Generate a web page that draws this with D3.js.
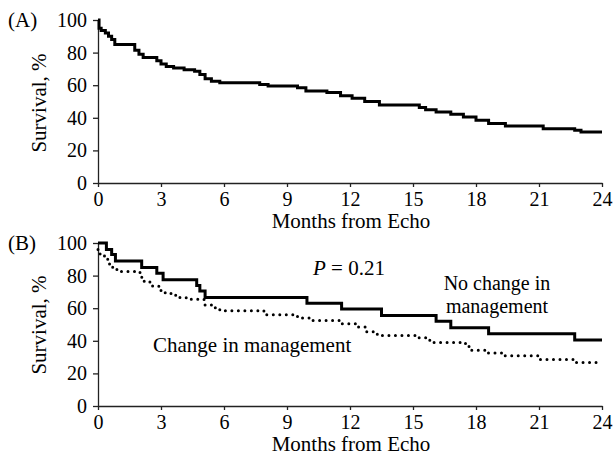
<!DOCTYPE html>
<html>
<head>
<meta charset="utf-8">
<script src="https://cdn.jsdelivr.net/npm/d3@7"></script>
<style>
  body { margin: 0; background: #fff; }
  svg text { font-family: "Liberation Serif", "Times New Roman", serif; fill: #000; }
</style>
</head>
<body>
<svg id="chart" width="614" height="455"></svg>
<script>
// x ticks (months) and y ticks (survival %)
let monthTicks = [0, 3, 6, 9, 12, 15, 18, 21, 24];
let survTicks = [0, 20, 40, 60, 80, 100];

// Panel A: all patients, [month, survival %] at each step
let allPatients = [
    [0, 100], [0.05, 95], [0.15, 93.5], [0.35, 92], [0.5, 90], [0.65, 88],
    [0.8, 85], [1.75, 81.5], [1.95, 79], [2.15, 77], [2.8, 75], [3.0, 73],
    [3.25, 71.5], [3.6, 70.5], [4.1, 69.5], [4.6, 68.5], [4.85, 66.5],
    [5.1, 64], [5.4, 62.5], [5.8, 61.5], [7.7, 60.5], [8.1, 59.5],
    [9.5, 58.5], [9.9, 56.5], [10.9, 55.5], [11.55, 53.5], [12.1, 52],
    [12.7, 50], [13.4, 47.8], [15.3, 46.3], [15.6, 45], [16.1, 43.6],
    [16.8, 42.2], [17.4, 40.5], [18.0, 38.5], [18.6, 36.5], [19.4, 35],
    [21.2, 33.3], [22.7, 32.3], [23.0, 31.3], [24, 31.3]
];

// Panel B: no change in management (solid)
let noChange = [
    [0, 100], [0.4, 96], [0.65, 93], [0.83, 89], [2.08, 85], [2.8, 81.5],
    [3.1, 77.5], [4.7, 74], [4.85, 70.5], [5.1, 66.5], [9.95, 63],
    [11.6, 59.5], [13.5, 55.5], [16.1, 52], [16.8, 48], [18.6, 44.3],
    [22.7, 40.5], [24, 40.5]
];

// Panel B: change in management (dotted)
let changeMgmt = [
    [0, 96], [0.1, 92], [0.4, 90], [0.55, 86.5], [0.7, 84], [0.9, 82.5],
    [2.0, 79], [2.2, 76], [2.6, 73.5], [3.0, 70], [3.2, 69], [3.7, 66.5],
    [4.2, 65.5], [5.05, 62], [5.4, 60.3], [5.8, 58.5], [7.9, 56],
    [9.5, 54], [10.1, 52.5], [11.5, 50.5], [12.3, 48.5], [12.8, 45.5],
    [13.3, 43.2], [15.2, 41.8], [15.8, 39], [17.5, 36.5], [17.8, 34.2],
    [18.5, 32.5], [19.3, 30.8], [21.0, 28.5], [22.7, 26.7], [24, 26.7]
];

let svg = d3.select("#chart");

let x = d3.scaleLinear().domain([0, 24]).range([98, 602]);

function panel(yTop, yBottom, label, labelY, titleY) {
    let y = d3.scaleLinear().domain([0, 100]).range([yBottom, yTop]);
    let g = svg.append("g");

    let xAxis = g.append("g")
        .attr("transform", "translate(0," + yBottom + ")")
        .call(d3.axisBottom(x).tickValues(monthTicks).tickSize(4).tickSizeOuter(0).tickPadding(5));
    let yAxis = g.append("g")
        .attr("transform", "translate(" + x(0) + ",0)")
        .call(d3.axisLeft(y).tickValues(survTicks).tickSize(5).tickSizeOuter(0).tickPadding(6));

    [xAxis, yAxis].forEach(function(a) {
        a.selectAll("path, line").attr("stroke", "#222").attr("stroke-width", 1.3);
        a.selectAll("text").style("font-size", "20px")
            .style("font-family", '"Liberation Serif", "Times New Roman", serif');
    });

    g.append("text")
        .attr("x", 8).attr("y", titleY)
        .style("font-size", "21px")
        .text(label);

    g.append("text")
        .attr("transform", "translate(46," + labelY + ") rotate(-90)")
        .attr("text-anchor", "middle")
        .style("font-size", "21px")
        .text("Survival, %");

    g.append("text")
        .attr("x", 351).attr("y", yBottom + 45)
        .attr("text-anchor", "middle")
        .style("font-size", "21px")
        .text("Months from Echo");

    return { g: g, y: y };
}

function curve(p, data, dotted) {
    let line = d3.line()
        .x(function(d) { return x(d[0]); })
        .y(function(d) { return p.y(d[1]); })
        .curve(d3.curveStepAfter);
    let path = p.g.append("path")
        .datum(data)
        .attr("d", line)
        .attr("fill", "none")
        .attr("stroke", "#000")
        .attr("stroke-width", 3);
    if (dotted) {
        path.attr("stroke-dasharray", "0,6.5")
            .attr("stroke-linecap", "round");
    }
}

let pA = panel(20, 183, "(A)", 103, 27);
curve(pA, allPatients, false);

let pB = panel(243, 406, "(B)", 325, 250);
curve(pB, changeMgmt, true);
curve(pB, noChange, false);

pB.g.append("text")
    .attr("x", 313).attr("y", 275)
    .style("font-size", "21px")
    .html('<tspan font-style="italic">P</tspan> = 0.21');

pB.g.append("text")
    .attr("x", 497).attr("y", 290)
    .attr("text-anchor", "middle")
    .style("font-size", "20px")
    .text("No change in");
pB.g.append("text")
    .attr("x", 497).attr("y", 313)
    .attr("text-anchor", "middle")
    .style("font-size", "20px")
    .text("management");

pB.g.append("text")
    .attr("x", 153).attr("y", 352)
    .style("font-size", "21px")
    .text("Change in management");
</script>
</body>
</html>
